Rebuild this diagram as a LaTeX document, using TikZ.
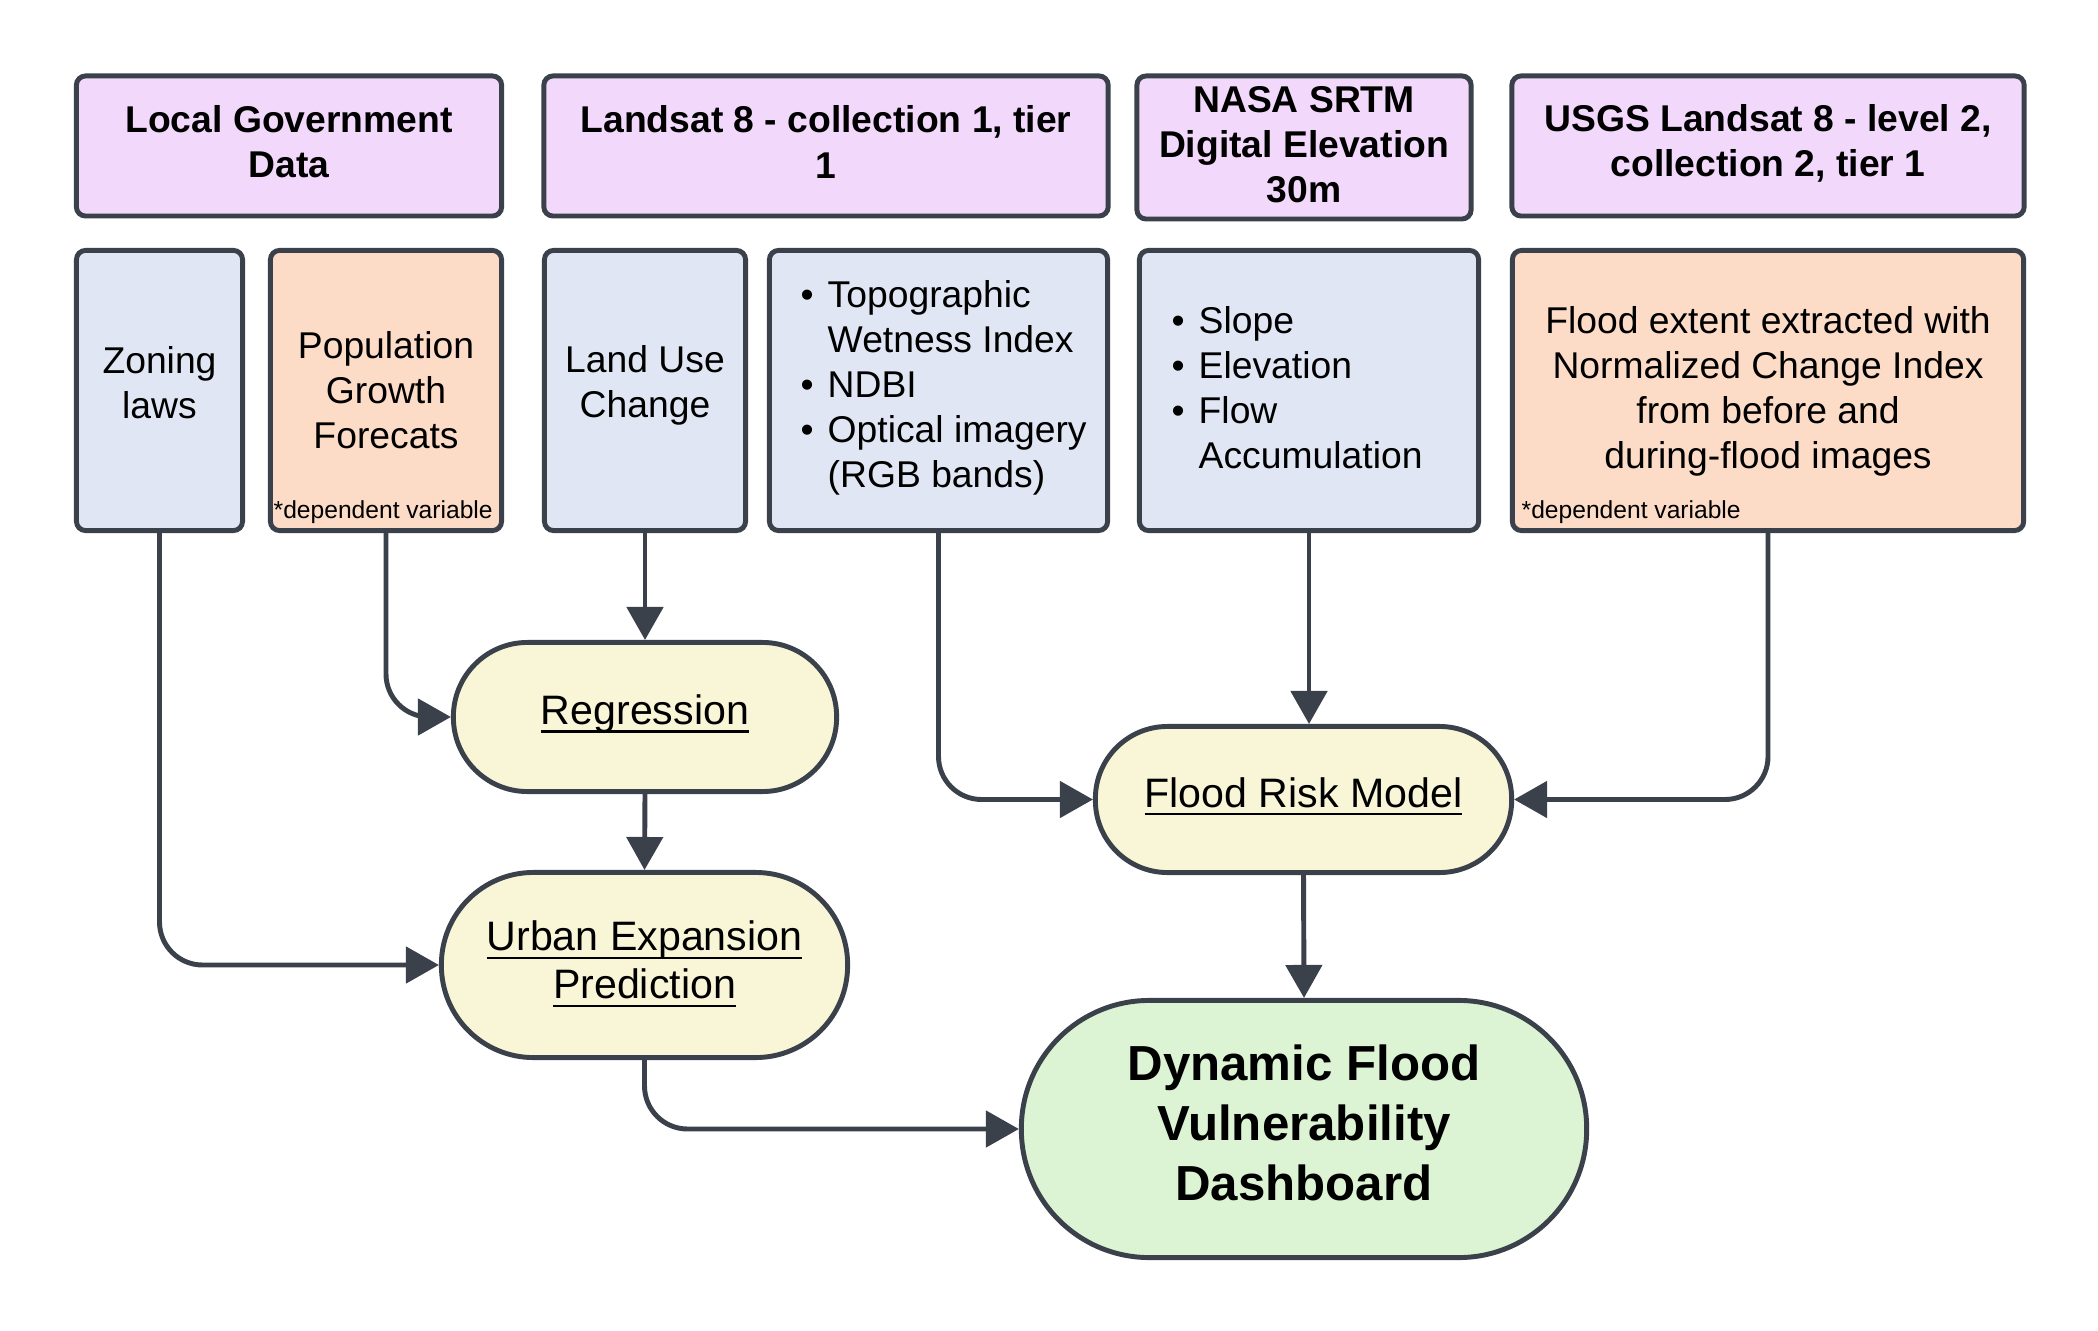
\documentclass[tikz,border=0pt]{standalone}
\usepackage{fontspec}
\setmainfont{Liberation Sans}
\usetikzlibrary{arrows.meta}
\definecolor{strokec}{RGB}{58,65,75}
\definecolor{hdrfill}{RGB}{242,216,250}
\definecolor{inpfill}{RGB}{224,230,243}
\definecolor{depfill}{RGB}{252,219,199}
\definecolor{procfill}{RGB}{249,246,216}
\definecolor{finfill}{RGB}{220,243,212}
\newcommand{\bul}{\makebox[0.27cm][l]{\textbullet}}
\newcommand{\ind}{\hspace*{0.27cm}}
\newcommand{\uln}[1]{\mbox{\setbox0\hbox{#1}\rlap{\copy0}\rule[-2.3pt]{\wd0}{0.65pt}}}
\begin{document}
\begin{tikzpicture}[x=0.01cm,y=-0.01cm,
  base/.style={draw=strokec, line width=1.4pt, inner sep=0pt, text=black},
  hdr/.style={base, fill=hdrfill, rounded corners=2.6pt},
  inp/.style={base, fill=inpfill, rounded corners=2.6pt},
  dep/.style={inp, fill=depfill},
  htxt/.style={inner sep=0pt, font=\fontsize{10.6}{12.8}\selectfont\bfseries, align=center},
  ctxt/.style={inner sep=0pt, font=\fontsize{10.6}{12.8}\selectfont, align=center},
  txt/.style={inner sep=0pt, font=\fontsize{10.6}{12.8}\selectfont, align=left, anchor=west},
  proc/.style={base, fill=procfill},
  ptxt/.style={inner sep=0pt, font=\fontsize{11.7}{13.7}\selectfont, align=center},
  fin/.style={base, fill=finfill},
  ftxt/.style={inner sep=0pt, font=\fontsize{14}{17}\selectfont\bfseries, align=center},
  conn/.style={draw=strokec, line width=1.4pt, rounded corners=0.43cm, -{Triangle[length=0.33cm,width=0.36cm]}},
  note/.style={font=\fontsize{7}{8.4}\selectfont, inner sep=0pt, anchor=west}
]
\fill[white] (0,0) rectangle (2098,1331);
\useasboundingbox (0,0) rectangle (2098,1331);

% header row
\node[hdr, minimum width=4.25cm, minimum height=1.40cm] (lg) at (289,146) {};
\node[hdr, minimum width=5.64cm, minimum height=1.40cm] (ls) at (826,146) {};
\node[hdr, minimum width=3.34cm, minimum height=1.43cm] (na) at (1304,147.5) {};
\node[hdr, minimum width=5.12cm, minimum height=1.40cm] (us) at (1768,146) {};
\node[htxt] (lgt) at ([yshift=0.04cm]lg.center) {Local Government\\Data};
\node[htxt] (lst) at ([yshift=0.04cm]ls.center) {Landsat 8 - collection 1, tier\\1};
\node[htxt] (nat) at ([yshift=0.03cm]na.center) {NASA SRTM\\Digital Elevation\\30m};
\node[htxt] (ust) at ([yshift=0.03cm]us.center) {USGS Landsat 8 - level 2,\\collection 2, tier 1};

% input row
\node[inp, minimum width=1.66cm, minimum height=2.80cm] (zo) at (159.5,390.5) {};
\node[dep, minimum width=2.31cm, minimum height=2.80cm] (po) at (386,390.5) {};
\node[inp, minimum width=2.01cm, minimum height=2.80cm] (lu) at (645,390.5) {};
\node[inp, minimum width=3.38cm, minimum height=2.80cm] (bu) at (938.5,390.5) {};
\node[inp, minimum width=3.39cm, minimum height=2.80cm] (sl) at (1309,390.5) {};
\node[dep, minimum width=5.11cm, minimum height=2.80cm] (fe) at (1768,390.5) {};

\node[ctxt] (zot) at ([yshift=0.08cm]zo.center) {Zoning\\laws};
\node[ctxt] (pot) at (po.center) {Population\\Growth\\Forecats};
\node[ctxt] (lut) at ([yshift=0.05cm]lu.center) {Land Use\\Change};
\node[ctxt] (fet) at ([yshift=-0.01cm]fe.center) {Flood extent extracted with\\Normalized Change Index\\from before and\\during-flood images};
\node[txt] (butxt) at (800,388) {\bul Topographic\\\ind Wetness Index\\\bul NDBI\\\bul Optical imagery\\\ind (RGB bands)};
\node[txt] (sltxt) at (1171,388) {\bul Slope\\\bul Elevation\\\bul Flow\\\ind Accumulation};

\node[note] (n1) at (273,512) {*dependent variable};
\node[note] (n2) at (1521,512) {*dependent variable};

% process nodes
\node[proc, minimum width=3.83cm, minimum height=1.49cm, rounded corners=0.74cm] (rg) at (645,717) {};
\node[proc, minimum width=4.06cm, minimum height=1.85cm, rounded corners=0.92cm] (ur) at (644.5,965) {};
\node[proc, minimum width=4.16cm, minimum height=1.46cm, rounded corners=0.72cm] (fr) at (1303.5,799.5) {};
\node[fin, minimum width=5.65cm, minimum height=2.57cm, rounded corners=1.28cm] (db) at (1304,1129) {};
\node[ptxt] (rgt) at ([yshift=0.03cm]rg.center) {\uln{Regression}};
\node[ptxt] (urt) at ([yshift=0.01cm]ur.center) {\uln{Urban Expansion}\\\uln{Prediction}};
\node[ptxt] (frt) at ([yshift=0.03cm]fr.center) {\uln{Flood Risk Model}};
\node[ftxt] (dbt) at ([yshift=0.06cm]db.center) {Dynamic Flood\\Vulnerability\\Dashboard};

% connectors
\draw[conn] (zo.south) |- (ur.west);
\draw[conn] (po.south) |- (rg.west);
\draw[conn] (lu.south) -- (rg.north);
\draw[conn] (rg.south) -- (ur.north);
\draw[conn] (bu.south) |- (fr.west);
\draw[conn] (sl.south) -- (sl.south |- fr.north);
\draw[conn] (fe.south) |- (fr.east);
\draw[conn] (fr.south) -- (db.north);
\draw[conn] (ur.south) |- (db.west);
\end{tikzpicture}
\end{document}
